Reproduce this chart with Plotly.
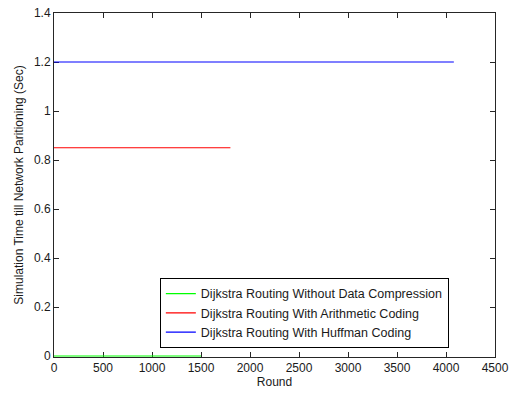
import plotly.graph_objects as go

# Data
rounds_no_comp = [0, 1500]
time_no_comp = [0.0, 0.0]
rounds_arith = [0, 1800]
time_arith = [0.85, 0.85]
rounds_huff = [0, 4080]
time_huff = [1.2, 1.2]

names = [
    "Dijkstra Routing Without Data Compression",
    "Dijkstra Routing With Arithmetic Coding",
    "Dijkstra Routing With Huffman Coding",
]
colors = ["#00ff00", "#ff0000", "#0000ff"]

fig = go.Figure()
for xs, ys, nm, c in zip([rounds_no_comp, rounds_arith, rounds_huff],
                         [time_no_comp, time_arith, time_huff], names, colors):
    fig.add_trace(go.Scatter(x=xs, y=ys, mode="lines", name=nm,
                             line=dict(color=c, width=1.2)))

FONT = "Arial, Liberation Sans, sans-serif"
axis_common = dict(
    showgrid=False, zeroline=False, showline=True, mirror="ticks",
    linecolor="#262626", linewidth=1, ticks="inside", ticklen=5,
    tickcolor="#262626", tickfont=dict(family=FONT, size=12, color="#1a1a1a"),
    automargin=False, layer="below traces", ticklabeloverflow="allow",
)

fig.update_layout(
    width=509, height=394,
    margin=dict(l=54, r=14, t=13, b=37),
    paper_bgcolor="white", plot_bgcolor="white",
    font=dict(family=FONT, size=12, color="#1a1a1a"),
    xaxis=dict(range=[0, 4500], dtick=500,
               title=dict(text="Round", standoff=3, font=dict(family=FONT, size=12)), **axis_common),
    yaxis=dict(range=[-0.004, 1.4], tick0=0, dtick=0.2,
               title=dict(text="Simulation Time till Network Paritioning (Sec)", standoff=7,
                          font=dict(family=FONT, size=12)), **axis_common),
    legend=dict(x=0.240, y=0.2297, xanchor="left", yanchor="top",
                bordercolor="black", borderwidth=1, bgcolor="white",
                font=dict(family=FONT, size=12.5, color="#1a1a1a"),
                tracegroupgap=0),
    showlegend=True,
)

fig.write_html("out.html")
